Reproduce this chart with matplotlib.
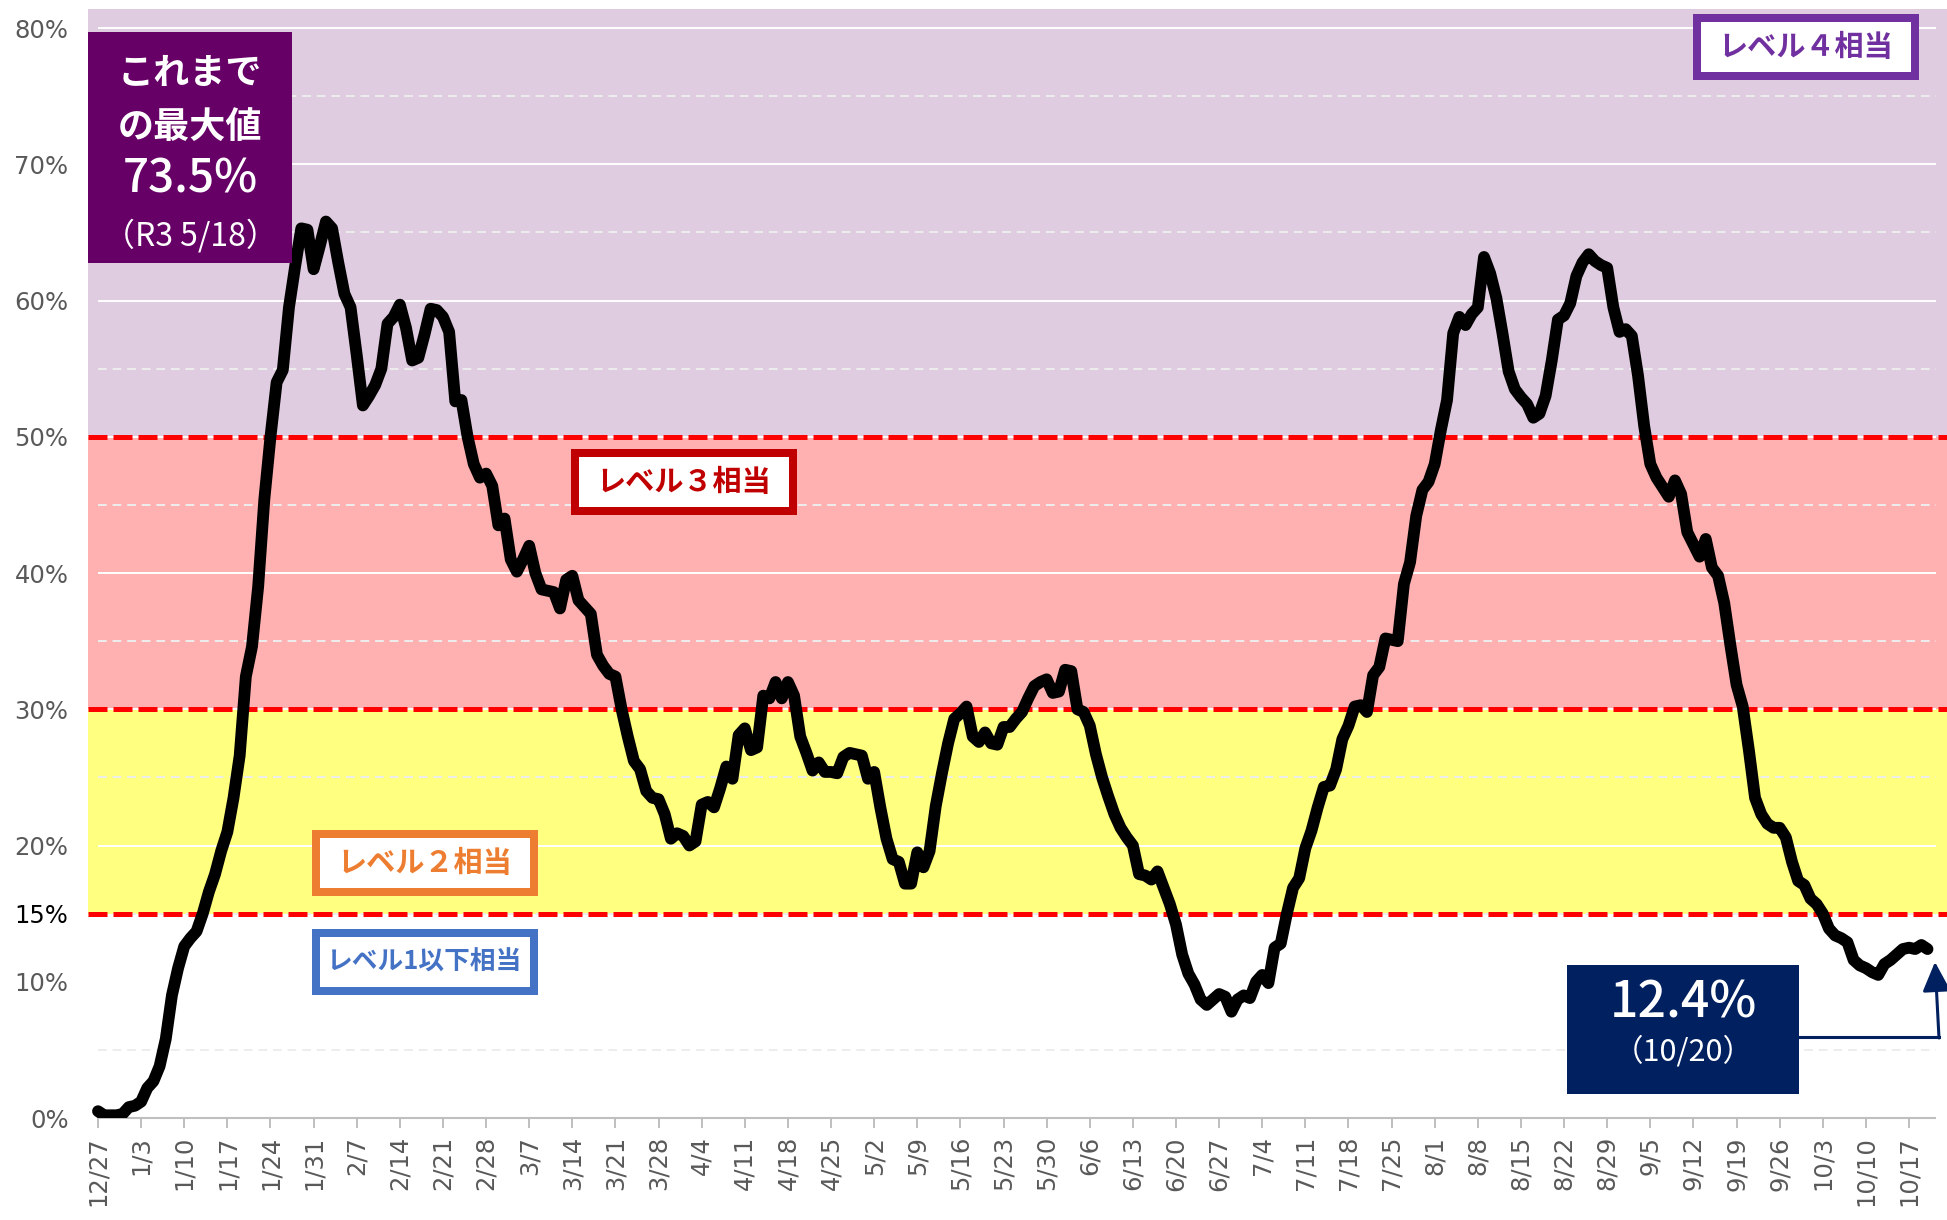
import matplotlib.pyplot as plt
import matplotlib.patches as mpatches
from matplotlib.lines import Line2D
import pandas as pd

plt.rcParams['font.family'] = ['Noto Sans CJK JP', 'DejaVu Sans']

W, H = 1947, 1220

# daily values (%) from 12/27 to 10/20, one row per week
rate_weeks = [
    [0.5, 0.2, 0.2, 0.2, 0.3, 0.8, 0.9],
    [1.2, 2.2, 2.7, 3.8, 5.8, 9.0, 11.0],
    [12.6, 13.2, 13.7, 15.0, 16.6, 17.9, 19.6],
    [21.0, 23.5, 26.6, 32.4, 34.6, 39.0, 45.4],
    [50.0, 54.0, 54.9, 59.5, 62.5, 65.3, 65.2],
    [62.3, 64.0, 65.8, 65.3, 62.8, 60.5, 59.5],
    [56.0, 52.3, 53.0, 53.8, 55.0, 58.3, 58.8],
    [59.7, 58.0, 55.6, 55.8, 57.5, 59.4, 59.3],
    [58.8, 57.7, 52.6, 52.7, 50.0, 48.0, 47.0],
    [47.3, 46.4, 43.5, 44.0, 41.0, 40.1, 41.0],
    [42.0, 40.0, 38.8, 38.7, 38.6, 37.4, 39.5],
    [39.8, 38.0, 37.5, 37.0, 34.0, 33.2, 32.6],
    [32.4, 30.0, 28.0, 26.2, 25.6, 24.0, 23.5],
    [23.4, 22.3, 20.5, 20.9, 20.7, 20.0, 20.3],
    [23.0, 23.2, 22.8, 24.2, 25.8, 24.9, 28.1],
    [28.6, 27.0, 27.2, 31.0, 30.8, 32.0, 30.8],
    [32.0, 31.0, 28.0, 26.8, 25.5, 26.1, 25.4],
    [25.4, 25.3, 26.5, 26.8, 26.7, 26.6, 24.9],
    [25.4, 22.8, 20.5, 19.0, 18.8, 17.2, 17.2],
    [19.5, 18.4, 19.6, 22.9, 25.3, 27.5, 29.3],
    [29.7, 30.2, 28.0, 27.6, 28.3, 27.5, 27.4],
    [28.7, 28.7, 29.3, 29.8, 30.8, 31.7, 32.0],
    [32.2, 31.2, 31.3, 32.9, 32.8, 30.0, 29.8],
    [28.8, 26.7, 25.0, 23.6, 22.3, 21.3, 20.6],
    [20.0, 17.9, 17.8, 17.5, 18.1, 16.9, 15.7],
    [14.2, 12.0, 10.6, 9.8, 8.7, 8.3, 8.7],
    [9.1, 8.9, 7.8, 8.7, 9.0, 8.8, 10.0],
    [10.5, 9.9, 12.5, 12.8, 15.0, 16.9, 17.6],
    [19.8, 21.1, 22.8, 24.3, 24.4, 25.6, 27.8],
    [28.8, 30.2, 30.3, 29.8, 32.5, 33.1, 35.2],
    [35.1, 35.0, 39.2, 40.8, 44.2, 46.1, 46.7],
    [48.0, 50.5, 52.7, 57.6, 58.8, 58.2, 59.0],
    [59.5, 63.2, 62.0, 60.2, 57.6, 54.8, 53.5],
    [52.9, 52.4, 51.4, 51.7, 53.0, 55.6, 58.6],
    [58.9, 59.8, 61.8, 62.8, 63.4, 62.9, 62.6],
    [62.4, 59.5, 57.7, 57.9, 57.4, 54.5, 50.8],
    [48.0, 47.0, 46.3, 45.6, 46.8, 45.8, 43.0],
    [42.1, 41.2, 42.5, 40.4, 39.8, 37.8, 34.7],
    [31.8, 30.2, 27.0, 23.5, 22.3, 21.6, 21.3],
    [21.3, 20.6, 18.8, 17.4, 17.1, 16.1, 15.7],
    [15.0, 13.9, 13.4, 13.2, 12.9, 11.6, 11.2],
    [11.0, 10.7, 10.5, 11.3, 11.6, 12.0, 12.4],
    [12.5, 12.4, 12.7, 12.4],
]
rate = [v for week in rate_weeks for v in week]
dates = pd.date_range('2021-12-27', '2022-10-20', freq='D')
date_labels = [f"{d.month}/{d.day}" for d in dates]

# level bands
band_edges = [0, 15, 30, 50, 81.4]
band_colors = ['#FFFFFF', '#FFFF80', '#FFB0B0', '#E0CCE0']
threshold_lines = [15, 30, 50]
major_grid = [10, 20, 30, 40, 50, 60, 70, 80]
minor_grid = [5, 15, 25, 35, 45, 55, 65, 75]
y_ticks = [0, 10, 15, 20, 30, 40, 50, 60, 70, 80]
y_labels = [f"{v}%" for v in y_ticks]

level_boxes = [
    # text, colour, centre x px, centre y px, font size
    ('レベル４相当', '#7030A0', 1806, 47, 21),
    ('レベル３相当', '#C00000', 684, 482, 21),
    ('レベル２相当', '#ED7D31', 425, 863, 21),
    ('レベル1以下相当', '#4472C4', 425, 962, 18.5),
]


def fx(px):
    return px / W


def fy(py):
    return 1 - py / H


def add_rect(fig, left, top, w, h, face, edge=None, lw_px=0, z=6):
    rect = mpatches.Rectangle((fx(left), fy(top + h)), w / W, h / H,
                              transform=fig.transFigure, facecolor=face,
                              edgecolor=edge if edge else face,
                              linewidth=lw_px * 0.72, zorder=z)
    fig.add_artist(rect)


def main():
    fig = plt.figure(figsize=(W / 100, H / 100), dpi=100)
    ax = fig.add_axes([fx(88), fy(1118), (W - 88) / W, (1118 - 9) / H])

    days = list(range(len(rate)))
    px_day = 6.16
    x_end = (1936 - 98) / px_day
    ax.set_xlim((88 - 98) / px_day, (W - 98) / px_day)
    ax.set_ylim(0, band_edges[-1])

    for lo, hi, c in zip(band_edges[:-1], band_edges[1:], band_colors):
        ax.axhspan(lo, hi, color=c, lw=0, zorder=0)

    ax.hlines(minor_grid, 0, x_end, colors='#EDEDED', lw=1.4,
              linestyles=(0, (4.5, 3)), zorder=1)
    ax.hlines(major_grid, 0, x_end, colors='white', lw=1.4, zorder=1)
    for v in threshold_lines:
        ax.axhline(v, color='#FF0000', lw=3.6, dashes=(3.8, 1.2), zorder=2)

    ax.hlines(0, 0, x_end, colors='#BFBFBF', lw=1.5, zorder=3, clip_on=False)
    ax.plot(days, rate, color='black', lw=8.5, solid_joinstyle='round',
            solid_capstyle='round', zorder=4)

    for s in ax.spines.values():
        s.set_visible(False)
    ax.set_xticks(days[::7], date_labels[::7])
    ax.tick_params(axis='x', length=7, width=1.4, color='#BFBFBF',
                   labelsize=17.5, labelcolor='#595959', pad=6,
                   labelrotation=90, labelfontfamily='DejaVu Sans')
    ax.set_yticks(y_ticks, y_labels)
    ax.tick_params(axis='y', length=0, pad=14, labelsize=17.5,
                   labelcolor='#595959', labelfontfamily='DejaVu Sans')
    for lab in ax.get_yticklabels():
        if lab.get_text() == '15%':
            lab.set_color('black')

    # level labels
    for text, col, cx, cy, size in level_boxes:
        add_rect(fig, cx - 109, cy - 29, 218, 58, 'white', col, 8)
        fig.text(fx(cx), fy(cy), text, color=col, fontsize=size,
                 fontweight='bold', ha='center', va='center', zorder=7)

    # maximum so far
    add_rect(fig, 88, 32, 204, 231, '#660066')
    fig.text(fx(190), fy(73), 'これまで', color='white', fontsize=26,
             fontweight='bold', ha='center', va='center', zorder=7)
    fig.text(fx(190), fy(128), 'の最大値', color='white', fontsize=26,
             fontweight='bold', ha='center', va='center', zorder=7)
    fig.text(fx(190), fy(179), '73.5%', color='white', fontsize=33,
             fontweight='medium', ha='center', va='center', zorder=7)
    fig.text(fx(190), fy(236), '（R3 5/18）', color='white', fontsize=23,
             ha='center', va='center', zorder=7)

    # latest value
    add_rect(fig, 1567, 965, 232, 129, '#002060')
    fig.text(fx(1683), fy(1004), '12.4%', color='white', fontsize=36,
             fontweight='medium', ha='center', va='center', zorder=7)
    fig.text(fx(1683), fy(1052), '（10/20）', color='white', fontsize=22,
             ha='center', va='center', zorder=7)
    fig.add_artist(Line2D([fx(1799), fx(1939)], [fy(1037), fy(1037)],
                          transform=fig.transFigure, color='#002060', lw=2.2, zorder=7))
    arrow = mpatches.FancyArrowPatch((fx(1939), fy(1038)), (fx(1935), fy(962)),
                                     transform=fig.transFigure,
                                     arrowstyle='-|>,head_length=0.9,head_width=0.43',
                                     mutation_scale=20, color='#002060', lw=2.2,
                                     shrinkA=0, shrinkB=0, zorder=7)
    fig.add_artist(arrow)

    fig.savefig('out.png', dpi=100)


if __name__ == '__main__':
    main()
